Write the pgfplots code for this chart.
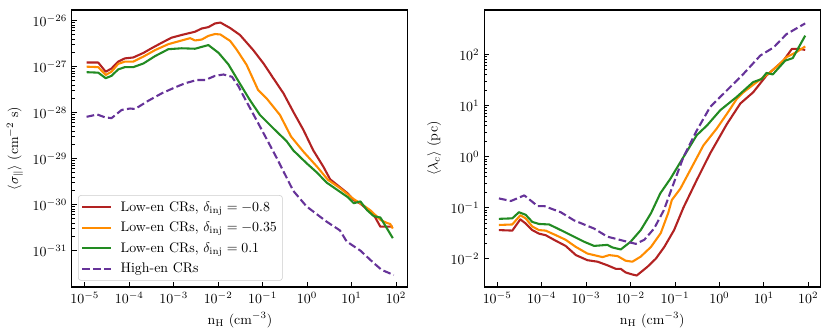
\documentclass[border=0pt]{standalone}
\usepackage{pgfplots}
\pgfplotsset{compat=1.18}
\definecolor{cred}{RGB}{178,34,34}
\definecolor{corange}{RGB}{255,140,0}
\definecolor{cgreen}{RGB}{34,139,34}
\definecolor{cpurple}{RGB}{102,51,153}
\begin{document}
\begin{tikzpicture}
\path[use as bounding box] (0,0) rectangle (597.6pt,241.9pt);
\begin{axis}[
  at={(51.8pt,35.3pt)}, anchor=south west,
  scale only axis, width=241.9pt, height=199.4pt,
  xmode=log, ymode=log,
  xmin=5.13e-6, xmax=186,
  xtick={1e-5,1e-4,1e-3,1e-2,1e-1,1,10,100},
  xminorticks=false,
  tick align=inside, tick pos=left,
  major tick length=3.5pt, minor tick length=2pt,
  every tick/.style={black, line width=0.6pt},
  axis line style={line width=0.8pt},
  xlabel={n$_{\rm H}$ (cm$^{-3}$)},
  ymin=1.62e-32, ymax=1.706e-26,
  ytick={1e-31,1e-30,1e-29,1e-28,1e-27,1e-26},
  ylabel={$\langle \sigma_{\parallel} \rangle$ (cm$^{-2}$ s)},
  legend cell align=left,
  legend image code/.code={\draw[#1] (0pt,0pt) -- (21pt,0pt);},
  legend style={at={(0,0)}, anchor=south west, xshift=4.4pt, yshift=4.5pt,
    draw=black!20, rounded corners=2pt, fill=white, fill opacity=0.8, text opacity=1,
    row sep=2.2pt, column sep=4pt, inner xsep=2pt, inner ysep=2.2pt},
]
\addplot[cred, line width=1.5pt, line join=round] coordinates {
(1.096e-5,1.230e-27)(2.0e-5,1.230e-27)(2.951e-5,7.762e-28)(3.981e-5,9.120e-28)
(5.623e-5,1.288e-27)(7.943e-5,1.514e-27)(1.230e-4,1.585e-27)(2.089e-4,1.995e-27)
(3.162e-4,2.512e-27)(5.370e-4,3.311e-27)(8.913e-4,4.266e-27)(1.514e-3,4.898e-27)
(3.020e-3,5.754e-27)(4.266e-3,6.761e-27)(6.026e-3,7.244e-27)(8.511e-3,8.710e-27)
(1.122e-2,9.120e-27)(1.862e-2,6.918e-27)(3.090e-2,4.898e-27)(6.166e-2,2.291e-27)
(0.1047,1.175e-27)(0.1738,5.623e-28)(0.2951,2.630e-28)(0.4898,1.047e-28)
(0.8318,4.169e-29)(1.380,1.514e-29)(2.344,6.607e-30)(3.311,3.548e-30)
(5.495,2.399e-30)(8.318,1.738e-30)(11.22,1.259e-30)(15.85,1.047e-30)
(22.39,7.943e-31)(31.62,6.026e-31)(44.67,3.311e-31)(63.10,3.311e-31)(85.11,3.311e-31)};
\addlegendentry{Low-en CRs, $\delta_{\rm inj}=-0.8$}
\addplot[corange, line width=1.5pt, line join=round] coordinates {
(1.096e-5,1.0e-27)(2.0e-5,9.772e-28)(2.951e-5,6.607e-28)(3.981e-5,7.762e-28)
(5.623e-5,1.148e-27)(7.943e-5,1.288e-27)(1.230e-4,1.288e-27)(2.089e-4,1.660e-27)
(3.802e-4,2.291e-27)(7.586e-4,3.090e-27)(1.514e-3,3.715e-27)(2.344e-3,4.169e-27)
(3.020e-3,3.715e-27)(4.266e-3,3.890e-27)(6.026e-3,4.677e-27)(8.511e-3,5.129e-27)
(1.122e-2,5.012e-27)(1.862e-2,3.631e-27)(2.570e-2,2.399e-27)(4.365e-2,1.096e-27)
(7.943e-2,3.090e-28)(0.1230,2.042e-28)(0.2455,8.913e-29)(0.4365,3.020e-29)
(0.8318,1.413e-29)(1.660,6.761e-30)(2.951,3.467e-30)(5.495,2.291e-30)
(11.22,1.318e-30)(15.85,1.072e-30)(26.30,7.586e-31)(44.67,4.677e-31)
(63.10,3.981e-31)(74.13,3.802e-31)(85.11,3.020e-31)};
\addlegendentry{Low-en CRs, $\delta_{\rm inj}=-0.35$}
\addplot[cgreen, line width=1.5pt, line join=round] coordinates {
(1.096e-5,7.586e-28)(2.0e-5,7.413e-28)(2.951e-5,5.623e-28)(3.981e-5,6.310e-28)
(5.623e-5,8.710e-28)(7.943e-5,9.772e-28)(1.230e-4,9.772e-28)(2.089e-4,1.175e-27)
(3.802e-4,1.698e-27)(7.586e-4,2.399e-27)(1.514e-3,2.512e-27)(3.020e-3,2.455e-27)
(6.026e-3,2.951e-27)(1.023e-2,1.995e-27)(1.698e-2,1.122e-27)(3.090e-2,4.266e-28)
(5.129e-2,1.905e-28)(8.710e-2,8.913e-29)(0.1738,4.571e-29)(0.3467,2.399e-29)
(0.4898,1.514e-29)(0.9772,7.943e-30)(1.660,5.012e-30)(2.754,3.020e-30)
(5.495,1.905e-30)(8.318,1.445e-30)(11.22,1.072e-30)(15.85,1.175e-30)
(22.39,7.586e-31)(31.62,5.623e-31)(44.67,5.248e-31)(85.11,1.862e-31)};
\addlegendentry{Low-en CRs, $\delta_{\rm inj}=0.1$}
\addplot[cpurple, line width=1.5pt, line join=round, dash pattern=on 5.55pt off 2.4pt] coordinates {
(1.096e-5,8.128e-29)(1.905e-5,9.120e-29)(2.818e-5,7.943e-29)(3.981e-5,7.586e-29)
(6.761e-5,1.148e-28)(1.047e-4,1.230e-28)(1.349e-4,1.202e-28)(2.692e-4,1.820e-28)
(5.370e-4,2.630e-28)(1.072e-3,3.548e-28)(1.820e-3,4.365e-28)(3.311e-3,5.129e-28)
(5.129e-3,5.129e-28)(8.511e-3,6.310e-28)(1.318e-2,6.761e-28)(2.042e-2,6.026e-28)
(2.884e-2,3.715e-28)(3.631e-2,2.399e-28)(8.710e-2,5.012e-29)(0.2089,1.023e-29)
(0.4898,1.995e-30)(0.9772,9.120e-31)(2.754,4.266e-31)(5.495,2.754e-31)
(7.762,1.585e-31)(15.85,1.0e-31)(31.62,5.370e-32)(47.86,3.802e-32)(89.13,2.951e-32)};
\addlegendentry{High-en CRs}
\end{axis}
\begin{axis}[
  at={(348.7pt,35.3pt)}, anchor=south west,
  scale only axis, width=241.9pt, height=199.4pt,
  xmode=log, ymode=log,
  xmin=5.13e-6, xmax=186,
  xtick={1e-5,1e-4,1e-3,1e-2,1e-1,1,10,100},
  xminorticks=false,
  tick align=inside, tick pos=left,
  major tick length=3.5pt, minor tick length=2pt,
  every tick/.style={black, line width=0.6pt},
  axis line style={line width=0.8pt},
  xlabel={n$_{\rm H}$ (cm$^{-3}$)},
  ymin=2.79e-3, ymax=746,
  ytick={1e-2,1e-1,1,10,100},
  ylabel={$\langle \lambda_{c} \rangle$ (pc)},
]
\addplot[cred, line width=1.5pt, line join=round] coordinates {
(1.096e-5,0.03631)(2.188e-5,0.03548)(3.311e-5,0.05888)(4.365e-5,0.04898)
(6.166e-5,0.03631)(8.710e-5,0.03090)(1.230e-4,0.02884)(2.089e-4,0.02239)
(3.467e-4,0.01778)(5.888e-4,0.01175)(1.072e-3,0.009333)(1.820e-3,0.008710)
(3.020e-3,0.007413)(4.677e-3,0.006310)(6.026e-3,0.006310)(7.762e-3,0.005370)
(1.096e-2,0.004898)(1.380e-2,0.004677)(2.399e-2,0.006918)(3.715e-2,0.01)
(5.754e-2,0.01698)(9.550e-2,0.03631)(0.1549,0.1)(0.3090,0.3467)
(0.6166,1.148)(1.479,4.365)(2.951,10.96)(5.754,18.20)(11.48,38.90)
(27.54,75.86)(42.66,128.8)(64.57,128.8)(85.11,123.0)};
\addplot[corange, line width=1.5pt, line join=round] coordinates {
(1.096e-5,0.04571)(2.188e-5,0.04677)(3.311e-5,0.07079)(4.365e-5,0.06166)
(6.166e-5,0.04266)(8.710e-5,0.03631)(1.230e-4,0.03548)(2.089e-4,0.02884)
(3.467e-4,0.02344)(5.888e-4,0.01698)(1.072e-3,0.01259)(2.344e-3,0.01072)
(3.311e-3,0.01175)(5.129e-3,0.01122)(7.762e-3,0.009120)(1.096e-2,0.008710)
(1.698e-2,0.01096)(2.884e-2,0.01698)(4.786e-2,0.03162)(7.079e-2,0.07943)
(8.511e-2,0.1413)(0.1318,0.2344)(0.2188,0.5370)(0.4365,1.660)(0.8710,3.548)
(1.479,6.918)(2.455,13.49)(3.467,18.20)(6.918,28.84)(13.80,44.67)
(22.91,66.07)(32.36,89.13)(54.95,112.2)(85.11,144.5)};
\addplot[cgreen, line width=1.5pt, line join=round] coordinates {
(1.096e-5,0.06026)(2.188e-5,0.06166)(3.090e-5,0.08128)(4.365e-5,0.07244)
(6.166e-5,0.05248)(8.710e-5,0.04786)(1.479e-4,0.04677)(2.692e-4,0.03631)
(5.370e-4,0.02692)(9.120e-4,0.02138)(1.514e-3,0.01778)(3.020e-3,0.01862)
(3.890e-3,0.01660)(6.026e-3,0.01514)(1.0e-2,0.02138)(1.698e-2,0.03631)
(2.884e-2,0.07762)(4.677e-2,0.1905)(7.943e-2,0.3715)(0.1549,0.9772)
(0.3090,2.630)(0.5248,4.074)(1.047,8.128)(2.455,14.79)(5.754,28.84)
(8.913,33.11)(11.48,43.65)(15.85,40.74)(30.20,75.86)(44.67,85.11)(85.11,234.4)};
\addplot[cpurple, line width=1.5pt, line join=round, dash pattern=on 5.55pt off 2.4pt] coordinates {
(1.096e-5,0.1514)(2.042e-5,0.1349)(4.074e-5,0.1738)(8.128e-5,0.1072)
(1.148e-4,0.1072)(2.692e-4,0.08128)(5.370e-4,0.05623)(1.514e-3,0.03890)
(3.020e-3,0.02692)(5.129e-3,0.02399)(8.511e-3,0.02138)(1.318e-2,0.01950)
(2.042e-2,0.02344)(3.388e-2,0.03890)(5.623e-2,0.08913)(8.511e-2,0.2399)
(0.1549,0.9772)(0.3090,3.236)(0.6166,9.333)(1.479,19.95)(3.467,41.69)
(8.318,95.50)(16.60,138.0)(32.36,251.2)(85.11,407.4)};
\end{axis}
\end{tikzpicture}
\end{document}
